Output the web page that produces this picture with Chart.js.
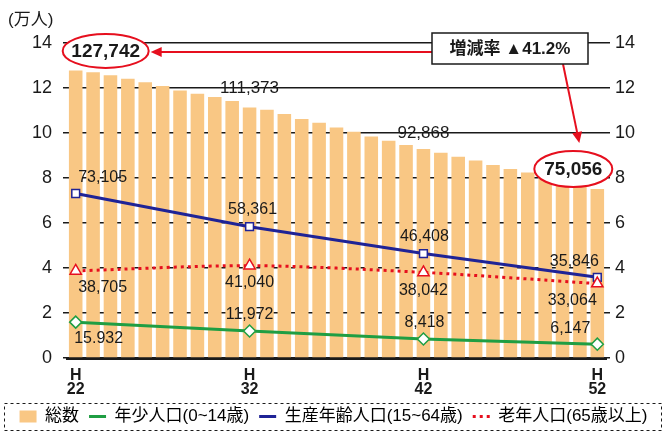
<!DOCTYPE html>
<html>
<head>
<meta charset="utf-8">
<script src="https://cdn.jsdelivr.net/npm/chart.js@4.4.0/dist/chart.umd.min.js"></script>
<style>
  html, body { margin: 0; padding: 0; background: #fff; }
</style>
</head>
<body>
<canvas id="chart" width="667" height="433"></canvas>
<script>
// categories: every year H22..H52
const years = ['H22', 'H23', 'H24', 'H25', 'H26', 'H27', 'H28', 'H29', 'H30', 'H31',
               'H32', 'H33', 'H34', 'H35', 'H36', 'H37', 'H38', 'H39', 'H40', 'H41',
               'H42', 'H43', 'H44', 'H45', 'H46', 'H47', 'H48', 'H49', 'H50', 'H51', 'H52'];
// 総数 (万人)
const totalPop = [12.7742, 12.70, 12.57, 12.41, 12.26, 12.09, 11.89, 11.74, 11.60, 11.42,
                  11.1373, 11.03, 10.84, 10.62, 10.46, 10.25, 10.06, 9.85, 9.66, 9.47,
                  9.2868, 9.12, 8.95, 8.78, 8.58, 8.40, 8.24, 8.06, 7.88, 7.69, 7.5056];
// the age groups are only given every 10 years
const markYears = ['H22', 'H32', 'H42', 'H52'];
const youngPop = [1.5932, 1.1972, 0.8418, 0.6147];
const workPop = [7.3105, 5.8361, 4.6408, 3.5846];
const oldPop = [3.8705, 4.1040, 3.8042, 3.3064];
const youngText = ['15.932', '11,972', '8,418', '6,147'];
const workText = ['73,105', '58,361', '46,408', '35,846'];
const oldText = ['38,705', '41,040', '38,042', '33,064'];
const totalText = ['127,742', '111,373', '92,868', '75,056'];
const rateText = '増減率 ▲41.2%';
const yTicks = [0, 2, 4, 6, 8, 10, 12, 14];

const FONT = '"Liberation Sans", "Noto Sans CJK JP", sans-serif';
const ORANGE = '#f9c784';
const GREEN = '#1f9e43';
const BLUE = '#1f2396';
const RED = '#e60f1e';
const INK = '#1a1a1a';

Chart.defaults.font.family = FONT;
Chart.defaults.color = INK;

// label offsets from each marker (text centre)
const labelOffsets = {
    1: [[23, 16], [0, -16], [1, -16], [-27, -16]],
    2: [[27, -16], [3, -17], [1, -17], [-23, -16]],
    3: [[27, 17], [0, 17], [0, 18], [-25, 17]]
};

function toPoints(values) {
    return values.map((v, i) => ({ x: markYears[i], y: v }));
}

const pointLabels = {
    id: 'pointLabels',
    afterDatasetsDraw(chart) {
        const ctx = chart.ctx;
        const texts = { 1: youngText, 2: workText, 3: oldText };
        ctx.save();
        ctx.font = '16px ' + FONT;
        ctx.fillStyle = INK;
        ctx.textAlign = 'center';
        ctx.textBaseline = 'middle';
        [1, 2, 3].forEach(di => {
            chart.getDatasetMeta(di).data.forEach((pt, k) => {
                const [dx, dy] = labelOffsets[di][k];
                ctx.fillText(texts[di][k], pt.x + dx, pt.y + dy);
            });
        });
        ctx.restore();
    }
};

function arrow(ctx, x1, y1, x2, y2) {
    const a = Math.atan2(y2 - y1, x2 - x1);
    const len = 11, half = 5;
    ctx.beginPath();
    ctx.moveTo(x1, y1);
    ctx.lineTo(x2 - Math.cos(a) * len * 0.8, y2 - Math.sin(a) * len * 0.8);
    ctx.stroke();
    ctx.beginPath();
    ctx.moveTo(x2, y2);
    ctx.lineTo(x2 - Math.cos(a) * len - Math.sin(a) * half, y2 - Math.sin(a) * len + Math.cos(a) * half);
    ctx.lineTo(x2 - Math.cos(a) * len + Math.sin(a) * half, y2 - Math.sin(a) * len - Math.cos(a) * half);
    ctx.closePath();
    ctx.fill();
}

function ellipseLabel(ctx, cx, cy, rx, ry, text) {
    ctx.beginPath();
    ctx.ellipse(cx, cy, rx, ry, 0, 0, Math.PI * 2);
    ctx.fillStyle = '#fff';
    ctx.fill();
    ctx.lineWidth = 2;
    ctx.strokeStyle = RED;
    ctx.stroke();
    ctx.fillStyle = INK;
    ctx.font = 'bold 19px ' + FONT;
    ctx.textAlign = 'center';
    ctx.textBaseline = 'middle';
    ctx.fillText(text, cx, cy + 1);
}

const annotations = {
    id: 'annotations',
    afterDraw(chart) {
        const ctx = chart.ctx;
        const y = chart.scales.y;
        const area = chart.chartArea;
        const bars = chart.getDatasetMeta(0).data;
        ctx.save();

        // unit
        ctx.font = '17px ' + FONT;
        ctx.fillStyle = INK;
        ctx.textAlign = 'left';
        ctx.textBaseline = 'middle';
        ctx.fillText('(万人)', 8, 20);

        // totals on the lines at 12 and 10
        ctx.font = '17px ' + FONT;
        ctx.textAlign = 'center';
        ctx.fillText(totalText[1], bars[10].x, y.getPixelForValue(12));
        ctx.fillText(totalText[2], bars[20].x, y.getPixelForValue(10));

        // rate box and arrows
        const bx = area.right - 174, by = 33, bw = 156, bh = 31;
        ctx.strokeStyle = RED;
        ctx.fillStyle = RED;
        ctx.lineWidth = 2;
        const e1x = bars[0].x + 30, e1y = y.getPixelForValue(13.65);
        const e2x = bars[30].x - 24, e2y = y.getPixelForValue(8.4);
        arrow(ctx, bx, e1y + 1, e1x + 45, e1y + 1);
        arrow(ctx, bx + 131, by + bh, e2x + 6, e2y - 26);

        ctx.fillStyle = '#fff';
        ctx.fillRect(bx, by, bw, bh);
        ctx.strokeStyle = INK;
        ctx.lineWidth = 1.5;
        ctx.strokeRect(bx, by, bw, bh);
        ctx.fillStyle = INK;
        ctx.font = 'bold 17px ' + FONT;
        ctx.textAlign = 'center';
        ctx.fillText(rateText, bx + bw / 2, by + bh / 2 + 1);

        ellipseLabel(ctx, e1x, e1y, 43, 17, totalText[0]);
        ellipseLabel(ctx, e2x, e2y, 39, 18, totalText[3]);

        // legend frame
        ctx.setLineDash([3, 3]);
        ctx.strokeStyle = INK;
        ctx.lineWidth = 1;
        ctx.strokeRect(4.5, 403.5, 657, 27);
        ctx.restore();
    }
};

new Chart(document.getElementById('chart'), {
    data: {
        labels: years,
        datasets: [
            {
                type: 'bar',
                label: '総数',
                data: totalPop,
                backgroundColor: ORANGE,
                barPercentage: 0.78,
                categoryPercentage: 1,
                order: 10
            },
            {
                type: 'line',
                label: '年少人口(0~14歳)',
                data: toPoints(youngPop),
                borderColor: GREEN,
                borderWidth: 3,
                pointStyle: 'rectRot',
                pointRadius: 6,
                pointBorderWidth: 1.5,
                pointBackgroundColor: '#fff',
                pointBorderColor: GREEN,
                order: 3
            },
            {
                type: 'line',
                label: '生産年齢人口(15~64歳)',
                data: toPoints(workPop),
                borderColor: BLUE,
                borderWidth: 3,
                pointStyle: 'rect',
                pointRadius: 5.5,
                pointBorderWidth: 1.5,
                pointBackgroundColor: '#fff',
                pointBorderColor: BLUE,
                order: 2
            },
            {
                type: 'line',
                label: '老年人口(65歳以上)',
                data: toPoints(oldPop),
                borderColor: RED,
                borderWidth: 3,
                borderDash: [3, 4],
                tension: 0.3,
                pointStyle: 'triangle',
                pointRadius: 6.5,
                pointBorderWidth: 1.5,
                pointBackgroundColor: '#fff',
                pointBorderColor: RED,
                order: 1
            }
        ]
    },
    options: {
        responsive: false,
        animation: false,
        devicePixelRatio: 1,
        layout: { padding: { top: 43, left: 0, right: 0, bottom: -2 } },
        scales: {
            x: {
                type: 'category',
                offset: true,
                grid: { display: false },
                border: { display: true, color: INK, width: 3 },
                ticks: {
                    autoSkip: false,
                    maxRotation: 0,
                    padding: 3,
                    color: INK,
                    font: { size: 16, weight: 'bold', lineHeight: 0.85 },
                    callback(value, index) {
                        const l = years[index];
                        return markYears.includes(l) ? ['H', l.slice(1)] : '';
                    }
                },
                afterFit(scale) { scale.height = 40; }
            },
            y: {
                position: 'left',
                min: 0,
                max: 14,
                afterBuildTicks(scale) { scale.ticks = yTicks.map(v => ({ value: v })); },
                ticks: { padding: 11, color: INK, font: { size: 18 } },
                grid: { color: INK, lineWidth: 1.5, tickLength: 4 },
                border: { display: false },
                afterFit(scale) { scale.width = 67; }
            },
            y2: {
                position: 'right',
                min: 0,
                max: 14,
                afterBuildTicks(scale) { scale.ticks = yTicks.map(v => ({ value: v })); },
                ticks: { padding: 5, color: INK, font: { size: 18 } },
                grid: { drawOnChartArea: false, color: INK, lineWidth: 1.5, tickLength: 4 },
                border: { display: false },
                afterFit(scale) { scale.width = 61; }
            }
        },
        plugins: {
            tooltip: { enabled: false },
            legend: {
                position: 'bottom',
                labels: {
                    usePointStyle: true,
                    pointStyleWidth: 17,
                    boxHeight: 12,
                    padding: 10,
                    color: INK,
                    font: { size: 17 },
                    generateLabels(chart) {
                        return chart.data.datasets.map((ds, i) => {
                            if (i === 0) {
                                return { text: ds.label, fillStyle: ORANGE, strokeStyle: ORANGE, lineWidth: 0, pointStyle: 'rect', datasetIndex: i };
                            }
                            return {
                                text: ds.label,
                                fillStyle: 'rgba(0,0,0,0)',
                                strokeStyle: ds.borderColor,
                                lineWidth: 3,
                                lineDash: ds.borderDash || [],
                                pointStyle: 'line',
                                datasetIndex: i
                            };
                        });
                    }
                }
            }
        }
    },
    plugins: [pointLabels, annotations]
});
</script>
</body>
</html>
